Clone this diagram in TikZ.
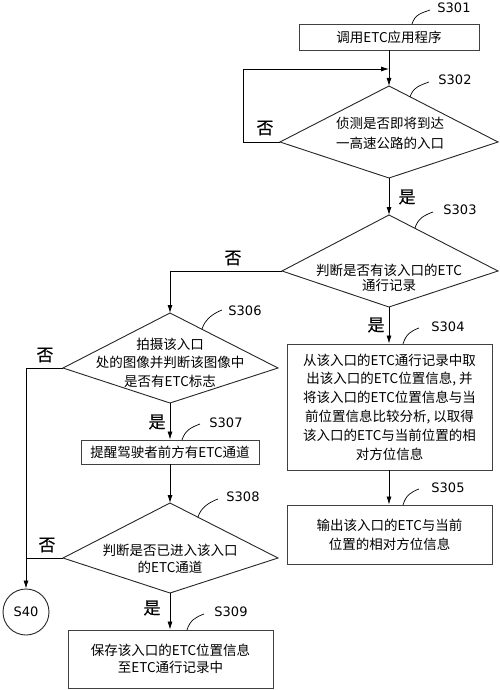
\documentclass[tikz,border=0pt]{standalone}
\usepackage{fontspec}
\newfontfamily\cjk{Noto Sans CJK SC}
\newfontfamily\cjkb{Noto Sans CJK SC}[FakeBold=0.5]
\newfontfamily\labfont{DejaVu Sans}
\usetikzlibrary{arrows.meta,calc}
\begin{document}
\begin{tikzpicture}[x=1pt,y=-1pt,
  every path/.style={line width=0.8pt},
  box/.style={draw=black!75, line width=0.9pt, inner sep=0pt, align=center,
    font=\cjk\fontsize{13.5}{18.8}\selectfont},
  dtext/.style={inner sep=0pt, align=center, font=\cjk\fontsize{13.5}{18.5}\selectfont},
  dia/.style={draw=black!85, line width=0.9pt},
  arr/.style={-{Latex[length=8pt,width=5pt]}},
  yn/.style={inner sep=0pt, font=\cjkb\fontsize{17}{17}\selectfont},
  steplab/.style={inner sep=0pt, font=\labfont\fontsize{13}{13}\selectfont},
  leader/.style={line width=0.7pt}]
\useasboundingbox[fill=white] (0,0) rectangle (500,690);

% ---------- boxes ----------
\node[box, minimum width=180pt, minimum height=26pt] (n1) at (389,37) {调用ETC应用程序};
\node[box, minimum width=205pt, minimum height=126pt] (n4) at (389.5,407)
  {从该入口的ETC通行记录中取\\出该入口的ETC位置信息, 并\\将该入口的ETC位置信息与当\\前位置信息比较分析, 以取得\\该入口的ETC与当前位置的相\\对方位信息};
\node[box, minimum width=205pt, minimum height=59pt, font=\cjk\fontsize{13.5}{19}\selectfont] (n5) at (389.5,534.5)
  {输出该入口的ETC与当前\\位置的相对方位信息};
\node[box, minimum width=178pt, minimum height=24pt] (n7) at (170,452) {提醒驾驶者前方有ETC通道};
\node[box, minimum width=205pt, minimum height=58pt, font=\cjk\fontsize{13.5}{17.5}\selectfont] (n9) at (170.5,659)
  {保存该入口的ETC位置信息\\至ETC通行记录中};
\node[draw=black!85, line width=0.9pt, circle, minimum size=46pt, inner sep=0pt, font=\labfont\fontsize{13}{13}\selectfont] (s40) at (26,612) {S40};

% ---------- diamonds ----------
\coordinate (d2t) at (389,86);  \coordinate (d2l) at (280,142);
\coordinate (d2r) at (498,142); \coordinate (d2b) at (389,178);
\draw[dia] (d2t) -- (d2r) -- (d2b) -- (d2l) -- cycle;
\node[dtext, font=\cjk\fontsize{13.5}{20}\selectfont] (t2) at (390,133) {侦测是否即将到达\\一高速公路的入口};

\coordinate (d3t) at (389,215); \coordinate (d3l) at (282,271);
\coordinate (d3r) at (498,271); \coordinate (d3b) at (389,307);
\draw[dia] (d3t) -- (d3r) -- (d3b) -- (d3l) -- cycle;
\node[dtext, font=\cjk\fontsize{13.5}{14.8}\selectfont] (t3) at (389,278) {判断是否有该入口的ETC\\通行记录};

\coordinate (d6t) at (170,313); \coordinate (d6l) at (63,368);
\coordinate (d6r) at (278,368); \coordinate (d6b) at (170,403);
\draw[dia] (d6t) -- (d6r) -- (d6b) -- (d6l) -- cycle;
\node[dtext] (t6) at (170,362.5) {拍摄该入口\\处的图像并判断该图像中\\是否有ETC标志};

\coordinate (d8t) at (170,503); \coordinate (d8l) at (63,558);
\coordinate (d8r) at (278,558); \coordinate (d8b) at (170,593);
\draw[dia] (d8t) -- (d8r) -- (d8b) -- (d8l) -- cycle;
\node[dtext, font=\cjk\fontsize{13.5}{17.3}\selectfont] (t8) at (170,558.5) {判断是否已进入该入口\\的ETC通道};

% ---------- connectors ----------
\coordinate (loopend) at (389,69);
\draw[arr] (n1.south) -- (d2t);
\draw[arr] (d2l) -- ++(-37,0) |- (loopend);
\draw[arr] (d2b) -- (d3t);
\draw[arr] (d3l) -| (d6t);
\draw[arr] (d3b) -- (d3b |- n4.north);
\draw[arr] (n4.south -| d3b) -- (n5.north -| d3b);
\draw[arr] (d6b) -- (n7.north);
\draw[arr] (n7.south) -- (d8t);
\draw[arr] (d8b) -- (n9.north -| d8b);
\draw[arr] (d6l) -| (s40.north);
\draw (d8l) -- (d8l -| s40.north);

% ---------- yes / no ----------
\node[yn] (no2) at (265,128) {否};
\node[yn] (no3) at (233,258) {否};
\node[yn] (no6) at (45,355) {否};
\node[yn] (no8) at (47,545) {否};
\node[yn] (yes2) at (407,197) {是};
\node[yn] (yes3) at (376,325) {是};
\node[yn] (yes6) at (157,422) {是};
\node[yn] (yes8) at (152,608) {是};

% ---------- step labels ----------
\node[steplab] (l1) at (454,8) {S301};
\node[steplab] (l2) at (455,80) {S302};
\node[steplab] (l3) at (460,210) {S303};
\node[steplab] (l4) at (448,327) {S304};
\node[steplab] (l5) at (448,488) {S305};
\node[steplab] (l6) at (245,311) {S306};
\node[steplab] (l7) at (226,423) {S307};
\node[steplab] (l8) at (243,497) {S308};
\node[steplab] (l9) at (231,612) {S309};

\coordinate (a1) at (412,24);  \coordinate (b1) at (430,10);
\coordinate (a2) at (410,97);  \coordinate (b2) at (429,82);
\coordinate (a3) at (415,228); \coordinate (b3) at (433,212);
\coordinate (a4) at (403,344); \coordinate (b4) at (419,328);
\coordinate (a5) at (403,505); \coordinate (b5) at (419,489);
\coordinate (a6) at (202,329); \coordinate (b6) at (222,310);
\coordinate (a7) at (182,440); \coordinate (b7) at (200,424);
\coordinate (a8) at (198,517); \coordinate (b8) at (218,499);
\coordinate (a9) at (187,630); \coordinate (b9) at (204,614);
\foreach \i in {1,...,9}{
  \draw[leader] (a\i) .. controls ($(a\i)+(3,-10)$) and ($(b\i)+(-8,3)$) .. (b\i);
}
\end{tikzpicture}
\end{document}
